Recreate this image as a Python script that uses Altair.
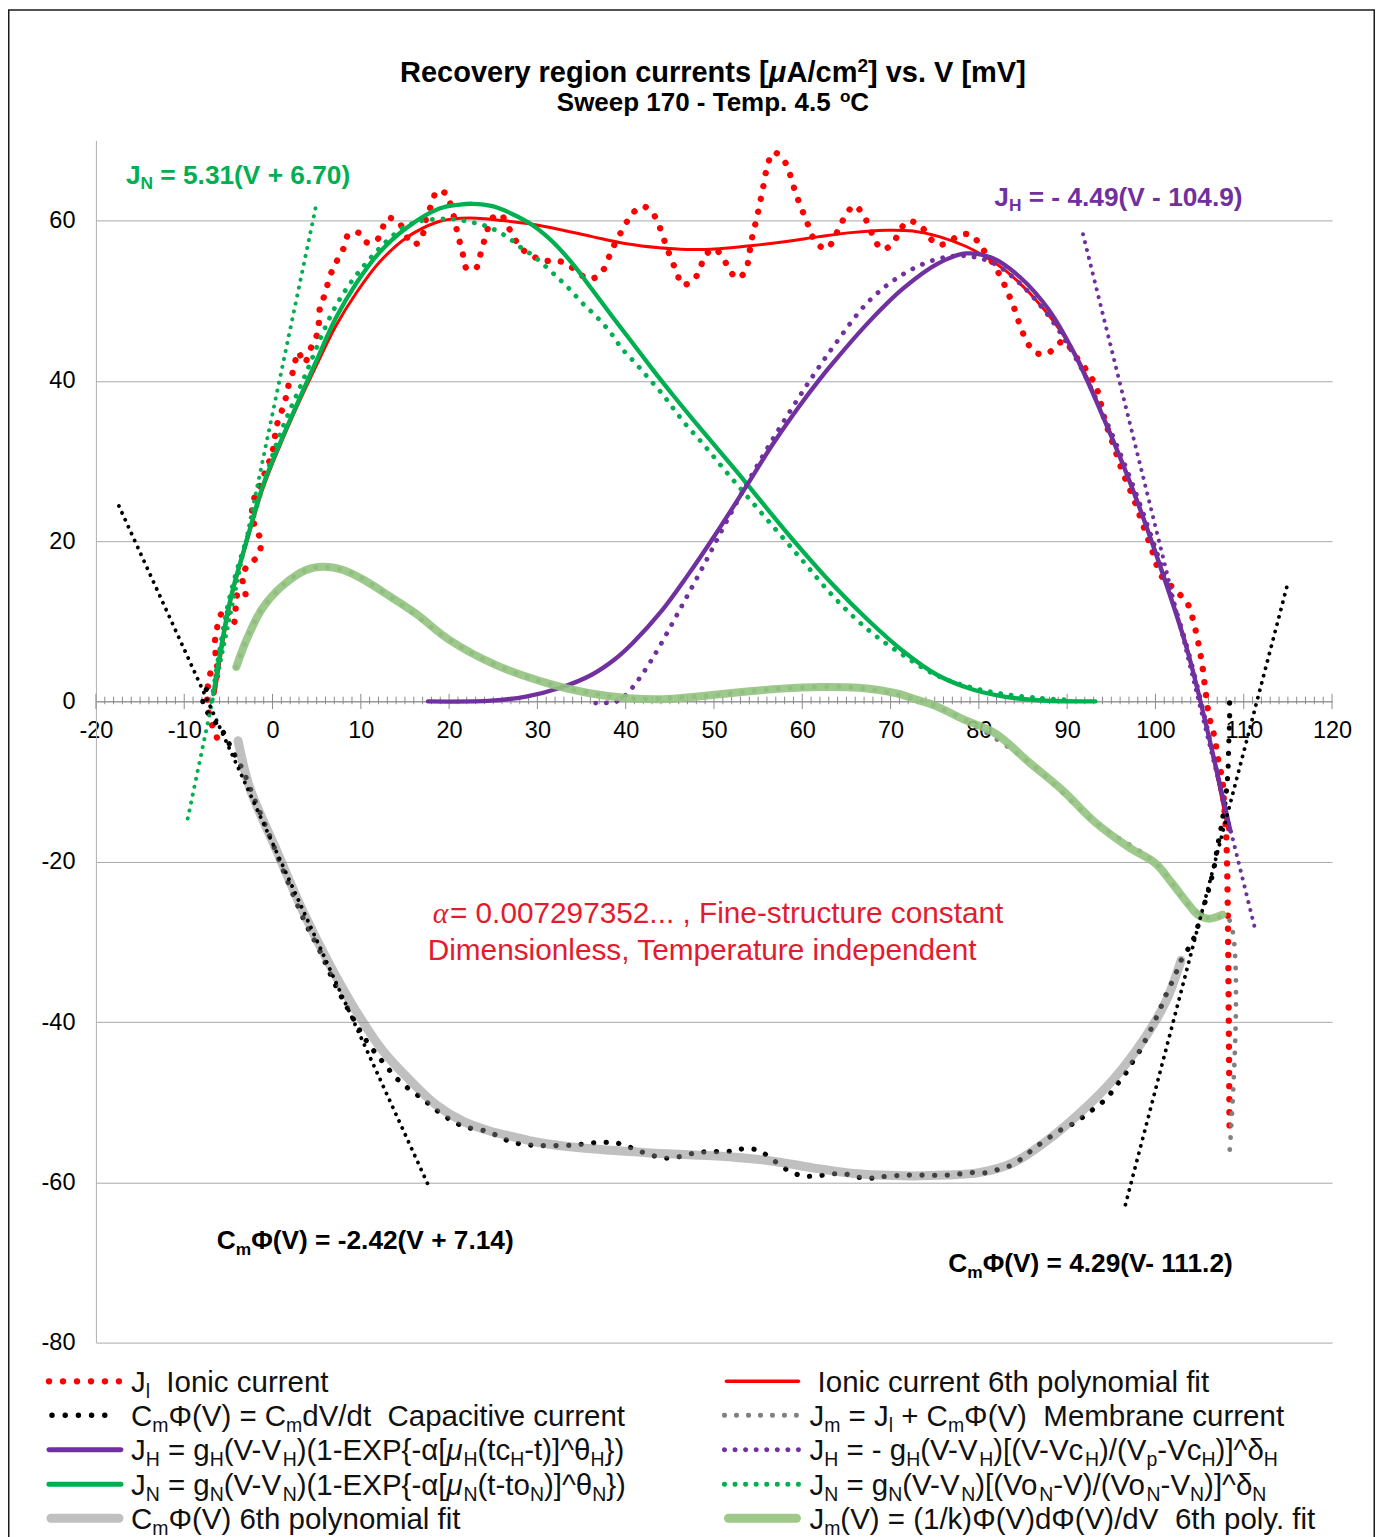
import re
import altair as alt
import pandas as pd

# ---------------- values ----------------
V_TICKS = list(range(-20, 121, 10))
J_TICKS = list(range(-80, 61, 20))

# J_l ionic current (V, J)
ionic = [(-6.3, -4.5), (-7.1, -2.0), (-7.4, 1.0), (-6.8, 4.0), (-6.2, 3.0), (-6.5, 7.8), (-5.4, 11.6),
         (-4.4, 9.8), (-3.9, 13.5), (-3.1, 13.1), (-3.4, 15.4), (-2.9, 16.9), (-1.7, 18.1), (-1.3, 20.0),
         (-2.0, 21.8), (-2.3, 24.5), (-1.6, 26.5), (-0.7, 29.0), (0.0, 31.2), (0.5, 34.5), (1.4, 37.4),
         (1.7, 39.0), (2.4, 41.5), (2.9, 43.6), (3.6, 42.2), (4.3, 44.0), (5.1, 46.0), (5.4, 49.3),
         (5.9, 50.7), (6.3, 52.3), (6.8, 53.9), (7.4, 55.2), (8.2, 56.9), (8.6, 58.3), (9.7, 58.5),
         (10.6, 57.3), (11.7, 57.4), (12.4, 58.9), (13.0, 60.3), (14.2, 59.9), (15.8, 57.1), (16.7, 57.4),
         (17.5, 60.7), (18.1, 62.2), (18.6, 63.7), (19.6, 63.4), (20.2, 61.9), (20.9, 58.7), (21.6, 55.6),
         (22.0, 54.0), (23.0, 54.0), (23.5, 55.6), (24.3, 58.7), (24.8, 60.2), (25.8, 60.8), (26.6, 59.4),
         (27.3, 58.0), (28.1, 56.6), (29.3, 55.7), (30.6, 55.0), (32.2, 55.0), (33.5, 54.5), (34.7, 53.4),
         (36.0, 52.7), (37.3, 53.6), (38.5, 56.5), (39.9, 59.4), (40.7, 60.8), (41.9, 61.8), (43.0, 61.0),
         (43.7, 59.6), (44.7, 56.5), (45.8, 53.5), (46.4, 52.0), (47.7, 52.6), (48.4, 54.0), (49.0, 55.6),
         (50.0, 56.5), (51.1, 55.2), (51.8, 53.7), (52.8, 52.8), (53.7, 54.2), (54.2, 57.3), (54.9, 60.6),
         (55.5, 63.8), (56.1, 67.0), (56.7, 68.5), (57.7, 67.9), (58.4, 66.4), (59.3, 63.3), (60.4, 60.2),
         (61.6, 57.2), (62.8, 56.5), (63.6, 57.8), (64.3, 59.4), (65.0, 60.8), (65.9, 61.9), (66.9, 60.7),
         (67.6, 59.2), (68.2, 57.6), (69.1, 56.4), (70.2, 57.1), (71.0, 58.6), (71.9, 59.9), (73.3, 59.5),
         (74.2, 58.2), (75.3, 57.0), (76.6, 57.3), (77.8, 58.2), (79.2, 58.2), (80.2, 56.8), (81.4, 55.0),
         (82.6, 52.7), (83.2, 51.2), (83.8, 49.7), (84.3, 48.1), (84.8, 46.5), (85.4, 45.0), (86.2, 43.7),
         (87.5, 43.3), (88.7, 44.2), (89.6, 45.0), (91.0, 43.0), (92.2, 41.3), (93.3, 39.2), (94.3, 35.0),
         (95.3, 31.8), (96.3, 28.6), (97.6, 25.1), (98.6, 22.0), (99.6, 18.9), (100.6, 15.8), (101.6, 14.6),
         (102.6, 13.5), (103.5, 12.5), (104.1, 10.8), (104.8, 7.6), (105.3, 4.5), (105.7, 1.0), (106.1, -2.0),
         (106.5, -3.6), (106.8, -5.1), (107.0, -6.7), (107.3, -8.2), (107.6, -10.0), (107.8, -13.3),
         (108.0, -16.4), (108.1, -19.8), (108.2, -26.7), (108.4, -54.5)]

# Ionic current 6th polynomial fit
ionic_fit = [(-6.5, 1.0), (-4.8, 12.2), (-2.9, 19.9), (-1.1, 26.5), (0.8, 31.8), (2.7, 36.6), (5.0, 42.0),
             (7.2, 46.9), (9.5, 51.0), (12.1, 54.8), (15.2, 57.9), (18.6, 59.8), (20.4, 60.2), (23.1, 60.3),
             (26.1, 60.0), (29.1, 59.6), (32.5, 58.9), (36.2, 58.0), (40.1, 57.1), (43.8, 56.6), (46.9, 56.4),
             (50.6, 56.5), (54.4, 56.9), (58.2, 57.4), (61.9, 58.0), (65.5, 58.5), (69.5, 58.8), (72.5, 58.7),
             (75.5, 58.0), (78.5, 56.8), (80.4, 55.7), (83.2, 53.6), (87.1, 49.3), (91.0, 43.2), (94.1, 35.6),
             (97.3, 27.0), (100.4, 17.5), (103.5, 7.0), (105.9, -3.7), (108.2, -16.0)]

# C_m Phi(V) capacitive current
capacitive = [(-7.5, 1.5), (-7.9, 0.0), (-7.3, -1.5), (-6.5, -2.6), (-5.6, -3.8), (-4.5, -6.2), (-3.3, -8.7),
              (-2.2, -11.8), (-1.1, -14.7), (-0.1, -17.4), (1.0, -20.5), (2.3, -24.0), (3.8, -27.8),
              (5.4, -31.2), (7.0, -35.1), (8.9, -39.1), (10.6, -42.3), (12.5, -45.0), (14.4, -47.4),
              (17.0, -49.6), (19.3, -51.6), (21.6, -53.0), (24.5, -53.7), (25.8, -54.4), (27.2, -55.0),
              (28.7, -55.3), (30.2, -55.4), (33.1, -55.4), (34.6, -55.3), (36.1, -55.1), (37.6, -55.0),
              (39.0, -55.1), (40.4, -55.6), (41.8, -56.2), (43.2, -56.7), (44.7, -57.0), (46.1, -56.8),
              (47.6, -56.4), (49.0, -56.2), (52.0, -56.1), (53.5, -55.8), (55.0, -56.0), (56.2, -56.8),
              (57.4, -57.8), (58.7, -58.7), (60.1, -59.2), (61.6, -59.2), (63.1, -59.0), (64.6, -58.9),
              (66.0, -59.3), (67.5, -59.5), (69.0, -59.3), (72.0, -59.1), (76.3, -59.1), (79.3, -58.8),
              (80.8, -58.8), (82.2, -58.4), (83.6, -57.9), (84.9, -57.0), (86.1, -55.9), (87.2, -55.0),
              (88.4, -54.1), (89.7, -53.2), (91.0, -52.5), (92.2, -51.5), (93.4, -50.5), (94.6, -49.4),
              (95.4, -48.1), (96.4, -46.8), (97.1, -45.5), (98.0, -44.0), (98.7, -42.6), (99.4, -41.1),
              (100.0, -39.7), (100.6, -38.2), (101.2, -36.6), (101.8, -35.2), (102.4, -33.7), (103.0, -32.1),
              (103.8, -30.7), (104.4, -29.4), (104.9, -27.7), (105.3, -26.3), (105.7, -24.7), (106.1, -23.2),
              (106.5, -21.4), (106.8, -19.8), (107.0, -18.2), (107.3, -16.6), (107.6, -14.6), (108.0, -11.6),
              (108.2, -9.0), (108.3, -5.3), (108.4, -2.0), (108.4, 0.0)]

# C_m Phi(V) 6th polynomial fit
capacitive_fit = [(-3.9, -4.9), (-2.6, -10.7), (0.5, -18.7), (3.5, -26.3), (6.5, -32.9), (9.5, -38.7),
                  (12.5, -43.6), (15.5, -47.2), (18.5, -50.3), (21.6, -52.4), (24.6, -53.6), (27.2, -54.3),
                  (30.0, -55.0), (34.8, -55.7), (42.3, -56.3), (49.9, -56.7), (56.3, -57.3), (61.2, -58.2),
                  (65.0, -58.8), (68.7, -59.1), (72.5, -59.2), (76.3, -59.1), (80.0, -58.8), (83.8, -57.6),
                  (87.6, -54.9), (91.4, -51.4), (95.2, -47.2), (98.9, -41.8), (101.2, -37.4), (102.9, -32.3)]

# J_m(V) 6th poly fit (light green)
jm_fit = [(-4.1, 4.3), (-2.9, 7.8), (-1.1, 11.7), (1.2, 14.5), (3.8, 16.4), (5.7, 16.8), (8.0, 16.4),
          (10.6, 15.0), (13.3, 13.1), (16.3, 10.9), (20.0, 7.7), (25.2, 4.6), (31.7, 2.1), (36.1, 1.0),
          (40.4, 0.4), (44.7, 0.3), (49.0, 0.7), (53.4, 1.2), (57.7, 1.6), (62.0, 1.8), (66.4, 1.7),
          (70.7, 1.0), (73.3, 0.1), (75.0, -0.5), (78.2, -2.2), (81.9, -4.0), (85.7, -7.6), (89.5, -11.1),
          (93.2, -15.1), (97.0, -18.2), (100.0, -20.2), (101.9, -22.7), (103.8, -25.4), (104.9, -26.7),
          (106.1, -27.1), (107.6, -26.6)]

# J_m membrane current (gray dotted)
membrane = [(-4.1, 4.3), (-1.1, 11.7), (3.8, 16.4), (8.0, 16.4), (13.3, 13.1), (20.0, 7.7), (25.2, 4.6),
            (31.7, 2.1), (40.4, 0.4), (49.0, 0.7), (57.7, 1.6), (66.4, 1.7), (73.3, 0.1), (78.2, -2.2),
            (85.7, -7.6), (93.2, -15.1), (100.0, -20.2), (103.8, -25.4), (106.1, -27.1), (108.2, -27.0),
            (108.4, -56.2)]

# J_H solid and dotted
jh_solid = [(17.6, 0.0), (24.8, 0.1), (28.7, 0.6), (32.6, 1.7), (36.1, 3.3), (38.7, 5.2), (40.8, 7.3),
            (44.0, 11.2), (47.0, 15.7), (50.2, 20.9), (53.4, 26.4), (56.6, 32.0), (59.7, 36.9), (61.9, 40.1),
            (63.6, 42.4), (67.5, 47.3), (71.4, 51.5), (75.3, 54.6), (78.5, 55.9), (81.6, 55.3), (84.7, 52.9),
            (87.9, 48.9), (91.0, 43.0), (94.1, 35.4), (97.3, 26.8), (100.4, 17.3), (103.5, 6.8),
            (105.9, -3.7), (108.5, -16.2)]
jh_dotted = [(36.6, -0.2), (38.9, 0.0), (40.0, 0.8), (41.3, 2.5), (42.6, 4.6), (43.8, 6.8), (46.2, 11.6),
             (48.7, 16.7), (51.2, 22.0), (53.8, 27.3), (56.7, 32.8), (59.7, 38.1), (61.5, 41.1), (63.6, 44.4),
             (67.5, 49.9), (71.4, 53.3), (75.3, 55.2), (78.5, 55.6), (81.6, 54.7), (84.7, 52.1), (87.9, 48.1),
             (91.0, 42.8), (94.1, 35.8), (97.3, 27.4), (100.4, 17.8), (103.5, 7.1), (105.9, -3.5),
             (108.3, -15.9)]

# J_N solid and dotted
jn_solid = [(-6.7, 0.9), (-4.8, 12.6), (-2.9, 20.2), (-1.1, 26.9), (0.8, 32.1), (2.7, 36.9), (5.0, 42.6),
            (7.2, 47.9), (9.5, 52.2), (12.1, 56.0), (15.2, 59.1), (18.9, 61.5), (21.2, 62.0), (22.7, 62.1),
            (24.9, 61.8), (27.2, 60.8), (29.5, 59.4), (31.7, 57.4), (34.0, 54.6), (36.2, 51.4), (38.5, 48.0),
            (40.8, 44.7), (43.0, 41.5), (45.3, 38.3), (47.6, 35.2), (50.2, 31.8), (53.4, 27.6), (56.5, 23.4),
            (59.7, 19.2), (63.6, 14.4), (67.5, 10.1), (71.4, 6.3), (75.3, 3.3), (79.3, 1.5), (83.2, 0.55),
            (87.1, 0.12), (93.2, 0.0)]
jn_dotted = [(-6.9, 0.0), (-4.9, 12.8), (-2.2, 22.8), (0.6, 32.6), (3.5, 40.2), (7.4, 49.8), (11.4, 55.7),
             (14.8, 59.1), (17.0, 60.0), (18.7, 60.2), (20.0, 60.2), (21.2, 60.1), (22.3, 59.8), (23.5, 59.6),
             (24.4, 59.2), (25.5, 58.7), (26.5, 58.0), (27.4, 57.3), (28.3, 56.5), (29.3, 55.8), (30.2, 55.0),
             (31.9, 53.3), (33.5, 51.6), (35.1, 49.7), (36.7, 48.0), (38.3, 46.0), (39.6, 44.0), (41.2, 42.1),
             (42.7, 40.2), (44.2, 38.3), (45.5, 36.4), (47.0, 34.3), (48.4, 32.6), (51.5, 28.5), (55.0, 24.0),
             (59.7, 18.0), (63.6, 13.0), (67.5, 8.9), (71.4, 5.8), (75.3, 3.2), (79.3, 1.7), (83.0, 0.9),
             (87.0, 0.4), (90.0, 0.2)]

# tangent lines (end points)
tangent_jn = [(-9.6, -14.6), (4.9, 61.7)]
tangent_jh = [(91.8, 58.3), (111.4, -28.9)]
tangent_c_left = [(-17.4, 24.4), (17.7, -60.5)]
tangent_c_right = [(96.6, -62.8), (115.0, 14.8)]

# ---------------- layout / style ----------------
W, H = 1237, 1203
XD, YD = [-20, 120], [-80, 70]
OX, OY = 96.0, 139.25          # page position of plot origin
SX = W / (XD[1] - XD[0])
SY = H / (YD[1] - YD[0])
FONT = "Liberation Sans"

RED, BLACK, PURPLE, GREEN = "#FF0000", "#000000", "#7030A0", "#00B050"
GRAY_DOT = "#808080"
RED_TXT = "#E41B2E"


def px2v(px):
    return (px - OX) / SX + XD[0]


def py2j(py):
    return YD[1] - (py - OY) / SY


XS = alt.Scale(domain=XD, nice=False, zero=False)
YS = alt.Scale(domain=YD, nice=False, zero=False)
XAX = alt.Axis(values=V_TICKS, offset=-(H * (0 - YD[0]) / (YD[1] - YD[0])), grid=False, ticks=False,
               tickSize=0, domainColor="#8c8c8c", domainWidth=1, labelFont=FONT, labelFontSize=23.5,
               labelColor="#000000", labelPadding=17, labelFlush=False, labelOverlap=False,
               labelExpr="datum.value + ''", title=None)
YAX = alt.Axis(values=J_TICKS, grid=True, gridColor="#a8a8a8", gridWidth=1, ticks=False, tickSize=0,
               domainColor="#b0b0b0", domainWidth=1, labelFont=FONT, labelFontSize=23.5,
               labelColor="#000000", labelPadding=21, labelFlush=False, labelOverlap=False,
               labelExpr="datum.value + ''", title=None)


def ex(f):
    return alt.X(f"{f}:Q", scale=XS, axis=XAX)


def ey(f):
    return alt.Y(f"{f}:Q", scale=YS, axis=YAX)


def line(points, color, width, dash=None, opacity=1.0, interp="catmull-rom"):
    df = pd.DataFrame({"v": [p[0] for p in points], "j": [p[1] for p in points],
                       "i": list(range(len(points)))})
    props = dict(color=color, strokeWidth=width, strokeCap="round", strokeJoin="round",
                 interpolate=interp, opacity=opacity)
    if dash:
        props["strokeDash"] = dash
    return alt.Chart(df).mark_line(**props).encode(x=ex("v"), y=ey("j"), order="i:Q")


layers = []

# axis ticks crossing the zero line
minor = pd.DataFrame({"v": [v for v in range(-20, 121) if v % 10], "a": -0.35, "b": 0.6})
major = pd.DataFrame({"v": V_TICKS, "a": -0.95, "b": 0.95})
for d in (minor, major):
    layers.append(alt.Chart(d).mark_rule(color="#8c8c8c", strokeWidth=1).encode(
        x=ex("v"), y=ey("a"), y2=alt.Y2("b:Q")))

layers += [
    line(ionic, RED, 6.3, [0.1, 13]),
    line(ionic_fit, RED, 3),
    line(capacitive, BLACK, 5.2, [0.1, 12.5]),
    line(membrane, GRAY_DOT, 4.8, [0.1, 12]),
    line(jn_dotted, GREEN, 4.8, [0.1, 10.5]),
    line(jh_dotted, PURPLE, 4.8, [0.1, 10.5]),
    line(jn_solid, GREEN, 4.3),
    line(jh_solid, PURPLE, 4.3),
    line(capacitive_fit, "#818181", 9, opacity=0.5),
    line(jm_fit, "#93C37F", 8, opacity=0.9),
    line(tangent_jn, GREEN, 4.0, [0.1, 8], interp="linear"),
    line(tangent_jh, PURPLE, 4.0, [0.1, 8], interp="linear"),
    line(tangent_c_left, BLACK, 3.8, [0.1, 7.5], interp="linear"),
    line(tangent_c_right, BLACK, 3.8, [0.1, 7.5], interp="linear"),
]

# ---------------- rich text (sub / superscripts) ----------------
REG, BOLD = {}, {}


def put(d, chars, w):
    for c in chars:
        d[c] = w


put(REG, "ijl", 222); put(REG, " fIt[]/.,:;!", 278); put(REG, "r-()", 333); put(REG, "{}", 334)
put(REG, "^", 469); put(REG, "Jckvsxyz", 500); put(REG, "abdeghnopqu0123456789L", 556)
put(REG, "+=", 584); put(REG, "FTZ", 611); put(REG, "ABEKPSVXY", 667); put(REG, "CDHNRUw", 722)
put(REG, "GOQ", 778); put(REG, "mM", 833); put(REG, "W", 944)
REG.update({"Φ": 798, "α": 578, "μ": 576, "θ": 556, "δ": 556})
put(BOLD, " ,./I!ijl", 278); put(BOLD, "ft()[]-:;", 333); put(BOLD, "r", 389); put(BOLD, "z", 500)
put(BOLD, "Jacksvxye0123456789", 556); put(BOLD, "bdghnopqu", 611); put(BOLD, "+=", 584)
put(BOLD, "FTZL", 611); put(BOLD, "EPSVXY", 667); put(BOLD, "ABCDHKNRU", 722); put(BOLD, "GOQw", 778)
put(BOLD, "M", 833); put(BOLD, "m", 889); put(BOLD, "W", 944)
BOLD.update({"Φ": 833, "α": 611, "μ": 611})


def width(s, bold):
    t = BOLD if bold else REG
    return sum(t.get(c, 556) for c in s) / 1000.0


rows = []


def rich(segs, x0, base, size, color, bold=False, align="left"):
    pieces, x = [], 0.0
    for text, kind in segs:
        fs = size * (0.66 if kind in ("sub", "sup") else 1.0)
        dy = 0.2 * size if kind == "sub" else (-0.37 * size if kind == "sup" else 0.0)
        style = "italic" if kind in ("i", "ser") else "normal"
        font = "Liberation Serif" if kind == "ser" else FONT
        rest = text
        while rest:
            m = re.match(r" +", rest)
            if m:
                x += width(m.group(), bold) * fs
                rest = rest[m.end():]
                continue
            m = re.match(r"[^ ]+(?: [^ ]+)*", rest)
            chunk = m.group()
            pieces.append((x, base + dy, chunk, fs, style, font))
            x += width(chunk, bold) * fs
            rest = rest[m.end():]
    shift = x0 - x / 2 if align == "center" else x0
    for (px, py, w, fs, style, font) in pieces:
        rows.append(dict(tx=px2v(px + shift), ty=py2j(py), text=w, size=fs, color=color,
                         weight="bold" if bold else "normal", style=style, font=font))


S, P, N, I = "sub", "sup", "n", "i"
rich([("Recovery region currents [", N), ("μ", I), ("A/cm", N), ("2", P), ("] vs. V [mV]", N)],
     713.5, 81, 29, "#000000", True, "center")
rich([("Sweep 170 - Temp. 4.5 ", N), ("o", P), ("C", N)], 713.5, 110, 26, "#000000", True, "center")
rich([("J", N), ("N", S), (" = 5.31(V + 6.70)", N)], 126, 183, 26.3, GREEN, True)
rich([("J", N), ("H", S), (" = - 4.49(V - 104.9)", N)], 995, 205, 26.3, PURPLE, True)
rich([("C", N), ("m", S), ("Φ(V) = -2.42(V + 7.14)", N)], 217, 1249, 26.3, "#000000", True)
rich([("C", N), ("m", S), ("Φ(V) = 4.29(V- 111.2)", N)], 949, 1272, 26.3, "#000000", True)
rich([("α", "ser"), ("= 0.007297352... , Fine-structure constant", N)], 433, 922, 29.8, RED_TXT)
rich([("Dimensionless, Temperature independent", N)], 428, 959, 29.8, RED_TXT)

LEG_Y = [1381, 1415, 1449.5, 1484, 1518]
LT = "#111111"
LFS = 29.5
left_labels = [
    [("J", N), ("l", S), ("  Ionic current", N)],
    [("C", N), ("m", S), ("Φ(V) = C", N), ("m", S), ("dV/dt  Capacitive current", N)],
    [("J", N), ("H", S), (" = g", N), ("H", S), ("(V-V", N), ("H", S), (")(1-EXP{-α[", N), ("μ", I),
     ("H", S), ("(tc", N), ("H", S), ("-t)]^θ", N), ("H", S), ("})", N)],
    [("J", N), ("N", S), (" = g", N), ("N", S), ("(V-V", N), ("N", S), (")(1-EXP{-α[", N), ("μ", I),
     ("N", S), ("(t-to", N), ("N", S), (")]^θ", N), ("N", S), ("})", N)],
    [("C", N), ("m", S), ("Φ(V) 6th polynomial fit", N)],
]
right_labels = [
    [(" Ionic current 6th polynomial fit", N)],
    [("J", N), ("m", S), (" = J", N), ("l", S), (" + C", N), ("m", S), ("Φ(V)  Membrane current", N)],
    [("J", N), ("H", S), (" = - g", N), ("H", S), ("(V-V", N), ("H", S), (")[(V-Vc", N), ("H", S),
     (")/(V", N), ("p", S), ("-Vc", N), ("H", S), (")]^δ", N), ("H", S)],
    [("J", N), ("N", S), (" = g", N), ("N", S), ("(V-V", N), ("N", S), (")[(Vo", N), ("N", S),
     ("-V)/(Vo", N), ("N", S), ("-V", N), ("N", S), (")]^δ", N), ("N", S)],
    [("J", N), ("m", S), ("(V) = (1/k)Φ(V)dΦ(V)/dV  6th poly. fit", N)],
]
for yc, segs in zip(LEG_Y, left_labels):
    rich(segs, 131, yc + 10.5, LFS, LT)
for yc, segs in zip(LEG_Y, right_labels):
    rich(segs, 810, yc + 10.5, LFS, LT)

tdf = pd.DataFrame(rows)
for (wt, st, fn), g in tdf.groupby(["weight", "style", "font"]):
    layers.append(alt.Chart(g.reset_index(drop=True)).mark_text(
        align="left", baseline="alphabetic", font=fn, fontWeight=wt, fontStyle=st).encode(
        x=ex("tx"), y=ey("ty"), text="text:N",
        size=alt.Size("size:Q", scale=None), color=alt.Color("color:N", scale=None)))

# legend symbols (page x0, x1, y, colour, width, dash)
symbols = [
    (49, 119, LEG_Y[0], RED, 6.3, [0.1, 13.9]),
    (52, 118, LEG_Y[1], BLACK, 5.4, [0.1, 13.1]),
    (49, 121, LEG_Y[2], PURPLE, 5, None),
    (49, 121, LEG_Y[3], GREEN, 5, None),
    (51, 119, LEG_Y[4], "#c0c0c0", 9, None),
    (727, 799, LEG_Y[0], RED, 3.6, None),
    (725, 797, LEG_Y[1], GRAY_DOT, 5, [0.1, 11.9]),
    (725, 799, LEG_Y[2], PURPLE, 5, [0.1, 10.47]),
    (725, 799, LEG_Y[3], GREEN, 5, [0.1, 10.47]),
    (729, 797, LEG_Y[4], "#9fc98a", 9, None),
]
for (a, b, yc, col, wdt, dash) in symbols:
    d = pd.DataFrame({"a": [px2v(a)], "b": [px2v(b)], "c": [py2j(yc)]})
    props = dict(color=col, strokeWidth=wdt, strokeCap="round")
    if dash:
        props["strokeDash"] = dash
    layers.append(alt.Chart(d).mark_rule(**props).encode(x=ex("a"), x2=alt.X2("b:Q"), y=ey("c")))

# outer frame
frame = pd.DataFrame({"k": [0]})
layers.append(alt.Chart(frame).mark_rect(fillOpacity=0, stroke="#1a1a1a", strokeWidth=1.5).encode(
    x=alt.value(8.75 - OX), x2=alt.value(1375.25 - OX), y=alt.value(8.75 - OY), y2=alt.value(1548 - OY)))

chart = alt.layer(*layers).properties(width=W, height=H, padding=0).configure_view(strokeWidth=0)
chart.save("out.html", embed_options={"renderer": "svg", "actions": False})
